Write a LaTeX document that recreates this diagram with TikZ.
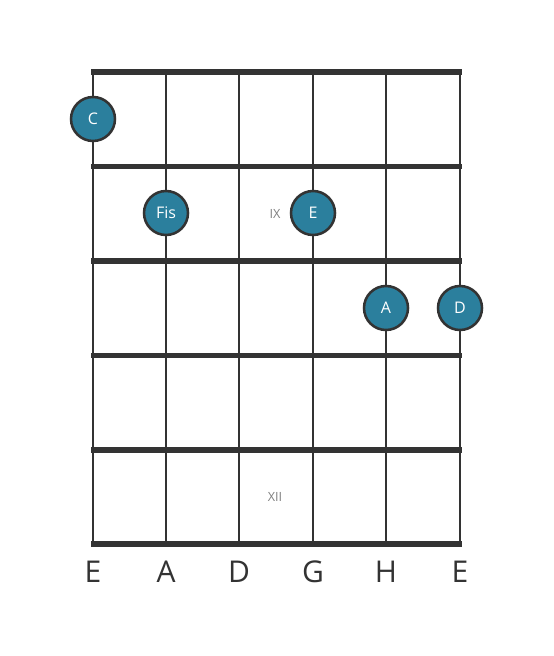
\documentclass[tikz,border=0pt]{standalone}
\usepackage{fontspec}
\setmainfont{Open Sans}
\usetikzlibrary{positioning}
\definecolor{dotblue}{HTML}{2B7F9D}
\definecolor{gridgray}{HTML}{333333}
\tikzset{
    fret/.style={gridgray, line width=3.8pt},
    string/.style={gridgray, line width=2.2pt},
    note/.style={circle, draw=gridgray, line width=1.9pt, fill=dotblue, text=white,
                 minimum size=33pt, inner sep=0pt, font=\fontsize{12}{13}\selectfont},
    fretnum/.style={text=gray, font=\fontsize{9.5}{10}\selectfont},
    stringname/.style={text=gridgray, font=\fontsize{22.5}{24}\selectfont}
}
\begin{document}
\begin{tikzpicture}[x=0.75pt, y=-0.75pt]
    \useasboundingbox (0,0) rectangle (553,656);
    % Strings
    \foreach \x in {93,166,239,313,386,460}
        \draw[string] (\x,72) -- (\x,544);
    % Frets
    \foreach \y in {72,166.5,261,355.5,450,544}
        \draw[fret] (91,\y) -- (462,\y);
    % Fret numbers
    \node(IX)  at (275,214) [fretnum] {IX};
    \node(XII) at (275,497) [fretnum] {XII};
    % Notes
    \node(C)   at (93,119)  [note] {C};
    \node(Fis) at (166,213) [note] {Fis};
    \node(E)   at (313,213) [note] {E};
    \node(A)   at (386,308) [note] {A};
    \node(D)   at (460,308) [note] {D};
    % String names
    \node(nE)  at (93,572)  [stringname] {E};
    \node(nA)  at (166,572) [stringname] {A};
    \node(nD)  at (239,572) [stringname] {D};
    \node(nG)  at (313,572) [stringname] {G};
    \node(nH)  at (386,572) [stringname] {H};
    \node(nEE) at (460,572) [stringname] {E};
\end{tikzpicture}
\end{document}
